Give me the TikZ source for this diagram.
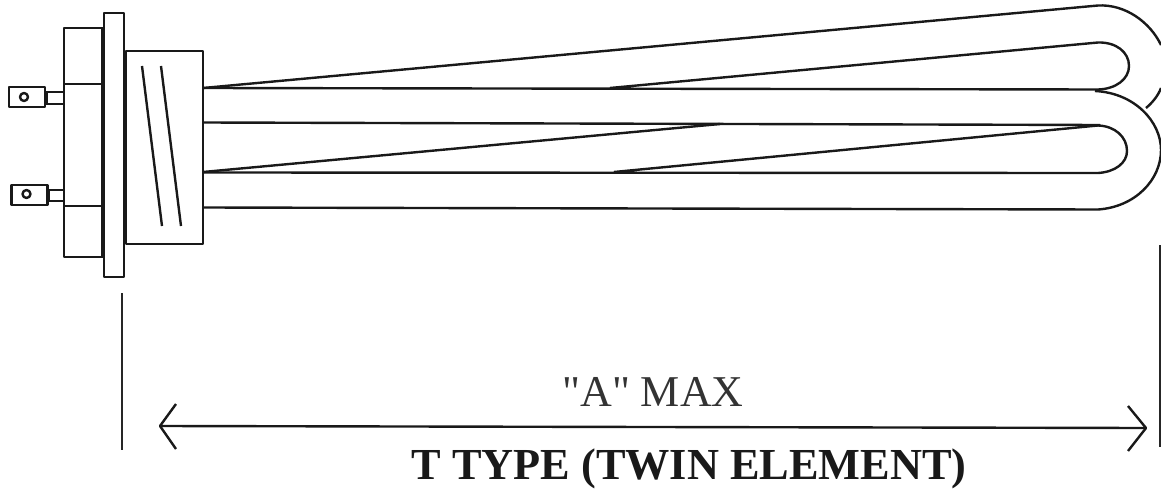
\documentclass[tikz,border=0pt]{standalone}
\usepackage{fontspec}
\setmainfont{Liberation Serif}[Ligatures=TeXOff]
\usetikzlibrary{calc}
\tikzset{
  ln/.style={line width=2.4pt,black!90,line join=round},
  thin line/.style={line width=1.5pt,black!85},
  lab/.style={inner sep=0pt,anchor=center}
}
\begin{document}
\begin{tikzpicture}[x=1pt,y=-1pt]
\useasboundingbox (0,0) rectangle (1161,492);
% flange and blocks
\node[ln,draw,minimum width=39pt,minimum height=229pt,inner sep=0pt] (lblock) at (83.5,142.5) {};
\node[ln,draw,minimum width=20pt,minimum height=264pt,inner sep=0pt] (flange) at (114,145) {};
\node[ln,draw,minimum width=77pt,minimum height=193pt,inner sep=0pt] (rblock) at (164.5,147.5) {};
\draw[line width=4.5pt,black!90] (103,29) -- (103,257);
\draw[line width=4.5pt,black!90] (125,51) -- (125,244);
\draw[ln] (64,84) -- (102,84);
\draw[ln] (64,206) -- (102,206);
% terminals
\node[ln,draw,minimum width=36pt,minimum height=20pt,inner sep=0pt] (t1) at (27,97) {};
\node[ln,draw,minimum width=36pt,minimum height=20pt,inner sep=0pt] (t2) at (29.5,195) {};
\node[ln,draw,circle,minimum size=8pt,inner sep=0pt] (h1) at (24,97) {};
\node[ln,draw,circle,minimum size=8pt,inner sep=0pt] (h2) at (26.5,194) {};
\draw[ln] (45,92) -- (64,92) (45,104) -- (64,104);
\draw[ln] (47,190) -- (63,190) (47,201) -- (63,201) (49,190) -- (49,201);
\draw[ln] (47,92) -- (47,104);
% slashes
\draw[ln] (142,66) -- (162,226);
\draw[ln] (161,66) -- (181,226);
% tubes
\draw[ln] (203,88) -- (1098,5.5)
  .. controls (1125,4) and (1150,22) .. (1161,45);
\draw[ln] (1146,108) .. controls (1152,103) and (1158,96) .. (1161,88);
\draw[ln] (610,88) -- (1098,42.5)
  .. controls (1116,42) and (1129,52) .. (1129,66)
  .. controls (1129,79) and (1116,89) .. (1098,89.5) -- (203,88);
\draw[ln] (203,122.5) -- (1100,125);
\draw[ln] (203,172) -- (720,124);
\draw[ln] (614,172) -- (1098,125.5)
  .. controls (1115,126) and (1127,137) .. (1127,151)
  .. controls (1127,163) and (1115,172) .. (1098,173) -- (203,172.5);
\draw[ln] (1095,91) .. controls (1135,93) and (1161,122) .. (1161,150)
  .. controls (1161,180) and (1135,207) .. (1098,209.5) -- (203,207.5);
% dimension
\coordinate (dl1) at (122,293); \coordinate (dl2) at (122,450);
\coordinate (dr1) at (1160,245); \coordinate (dr2) at (1160,447);
\draw[thin line] (dl1) -- (dl2);
\draw[thin line] (dr1) -- (dr2);
\coordinate (al) at (160,426); \coordinate (ar) at (1146,428);
\draw[ln] (al) -- (ar);
\draw[ln] (176,404) -- (al) -- (176,449);
\draw[ln] (1128,406) -- (ar) -- (1128,451);
% labels
\node[lab,text=black!80] (amax) at (653,392) {\fontsize{44}{44}\selectfont "A" MAX};
\node[lab,text=black!90] (title) at (689,469) {\fontsize{44.3}{44.3}\selectfont\bfseries T TYPE (TWIN ELEMENT)};
\end{tikzpicture}
\end{document}
